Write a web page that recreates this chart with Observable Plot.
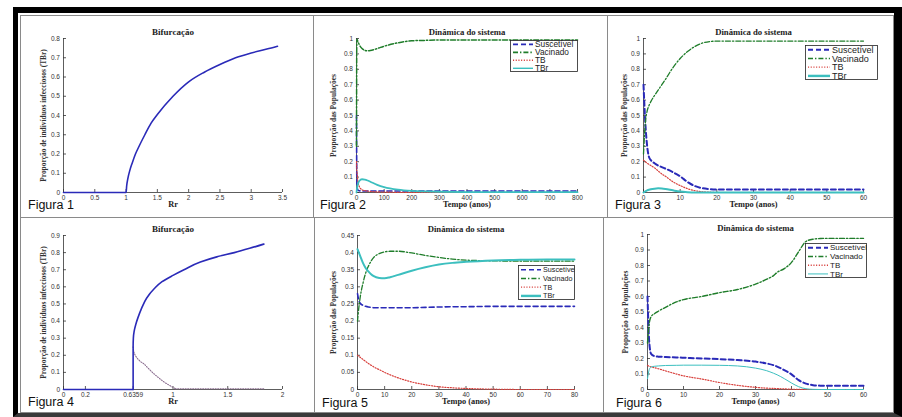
<!DOCTYPE html>
<html><head><meta charset="utf-8">
<script src="https://cdn.jsdelivr.net/npm/d3@7"></script>
<script src="https://cdn.jsdelivr.net/npm/@observablehq/plot@0.6"></script>
<style>
html,body{margin:0;padding:0;background:#fff;}
#root{position:relative;width:902px;height:417px;overflow:hidden;background:#fff;}
.frame{position:absolute;left:13px;top:7px;width:889px;height:410px;box-sizing:border-box;border-left:5px solid #000;border-top:6px solid #000;border-right:8px solid #000;border-bottom:4px solid #3a3a3a;}
.panel{position:absolute;box-sizing:border-box;border:1px solid #8a8a8a;}
.fig{position:absolute;font-family:'Liberation Sans',Arial,sans-serif;font-size:12.5px;color:#111;line-height:1;white-space:nowrap;}
</style></head><body><div id="root"><div class="frame"></div></div>
<script>
// ---------- data ----------
const seriesNames = ["Suscetível", "Vacinado", "TB", "TBr"];
const figLabels = ["Figura 1", "Figura 2", "Figura 3", "Figura 4", "Figura 5", "Figura 6"];

// Figura 1 — bifurcation
const fig1R   = [0, 1, 1.01, 1.03, 1.06, 1.1, 1.15, 1.2, 1.3, 1.4, 1.5, 1.75, 2, 2.25, 2.5, 2.75, 3, 3.25, 3.42];
const fig1TBr = [0, 0, 0.035, 0.075, 0.115, 0.155, 0.2, 0.235, 0.3, 0.36, 0.405, 0.5, 0.575, 0.625, 0.665, 0.70, 0.725, 0.745, 0.76];
const fig1XTicks = [0, 0.5, 1, 1.5, 2, 2.5, 3, 3.5];
const fig1YTicks = [0, 0.1, 0.2, 0.3, 0.4, 0.5, 0.6, 0.7, 0.8];

// Figura 4 — bifurcation with fold at 0.6359
const fig4FlatR = [0, 0.6359];
const fig4FlatTBr = [0, 0];
const fig4StableR   = [0.6359, 0.6359, 0.638, 0.645, 0.66, 0.68, 0.71, 0.76, 0.83, 0.9, 1.0, 1.1, 1.25, 1.4, 1.56, 1.7, 1.83];
const fig4StableTBr = [0, 0.25, 0.3, 0.34, 0.38, 0.42, 0.47, 0.535, 0.59, 0.63, 0.667, 0.7, 0.745, 0.775, 0.80, 0.825, 0.85];
const fig4UnstableR   = [0.6359, 0.645, 0.665, 0.7, 0.733, 0.78, 0.824, 0.87, 0.916, 0.96, 0.99, 1.02];
const fig4UnstableTBr = [0.25, 0.215, 0.19, 0.165, 0.15, 0.12, 0.093, 0.068, 0.045, 0.027, 0.016, 0.006];
const fig4TailR = [1.02, 1.83];
const fig4TailTBr = [0.004, 0.004];
const fig4XTicks = [0, 0.2, 0.6359, 1, 1.5, 2];
const fig4YTicks = [0, 0.1, 0.2, 0.3, 0.4, 0.5, 0.6, 0.7, 0.8, 0.9];

// Figura 2
const fig2Tempo = [0, 1, 2, 5, 10, 20, 30, 40, 50, 75, 100, 150, 200, 250, 300, 400, 500, 600, 700, 800];
const fig2Sus = [0.5, 0.12, 0.04, 0.015, 0.011, 0.01, 0.01, 0.01, 0.01, 0.01, 0.01, 0.01, 0.01, 0.01, 0.01, 0.01, 0.01, 0.01, 0.01, 0.01];
const fig2Vac = [0.3, 0.97, 0.995, 0.98, 0.96, 0.935, 0.923, 0.92, 0.922, 0.935, 0.95, 0.972, 0.985, 0.988, 0.99, 0.99, 0.99, 0.99, 0.99, 0.99];
const fig2TB  = [0.2, 0.16, 0.13, 0.075, 0.04, 0.018, 0.012, 0.009, 0.007, 0.004, 0.003, 0.001, 0, 0, 0, 0, 0, 0, 0, 0];
const fig2TBr = [0, 0.015, 0.028, 0.055, 0.075, 0.086, 0.084, 0.078, 0.07, 0.05, 0.035, 0.018, 0.01, 0.007, 0.005, 0.003, 0.002, 0.002, 0.002, 0.002];
const fig2XTicks = [0, 100, 200, 300, 400, 500, 600, 700, 800];

// Figura 3
const fig3Tempo = [0, 0.5, 1, 1.5, 2, 3, 4, 5, 6, 8, 10, 12, 14, 16, 18, 20, 25, 30, 40, 50, 60];
const fig3Sus = [0.7, 0.45, 0.3, 0.23, 0.21, 0.19, 0.175, 0.165, 0.155, 0.132, 0.105, 0.068, 0.042, 0.028, 0.022, 0.02, 0.02, 0.02, 0.02, 0.02, 0.02];
const fig3Vac = [0.25, 0.45, 0.53, 0.565, 0.59, 0.63, 0.665, 0.7, 0.735, 0.81, 0.87, 0.915, 0.948, 0.97, 0.98, 0.983, 0.983, 0.983, 0.983, 0.983, 0.983];
const fig3TB  = [0.21, 0.2, 0.19, 0.182, 0.175, 0.16, 0.14, 0.12, 0.105, 0.07, 0.045, 0.025, 0.012, 0.005, 0.002, 0, 0, 0, 0, 0, 0];
const fig3TBr = [0, 0.008, 0.014, 0.018, 0.021, 0.025, 0.027, 0.026, 0.023, 0.014, 0.006, 0.002, 0, 0, 0, 0, 0, 0, 0, 0, 0];

// Figura 5
const fig5Tempo = [0, 0.5, 1, 2, 3, 4, 5, 6, 8, 10, 12, 15, 20, 25, 30, 35, 40, 50, 60, 70, 80];
const fig5Sus = [0.28, 0.26, 0.252, 0.246, 0.243, 0.241, 0.24, 0.239, 0.239, 0.239, 0.239, 0.239, 0.239, 0.24, 0.241, 0.242, 0.242, 0.243, 0.243, 0.243, 0.243];
const fig5Vac = [0.2, 0.24, 0.27, 0.31, 0.34, 0.36, 0.375, 0.386, 0.397, 0.402, 0.404, 0.404, 0.399, 0.392, 0.386, 0.381, 0.378, 0.376, 0.375, 0.375, 0.375];
const fig5TB  = [0.1, 0.097, 0.094, 0.088, 0.082, 0.076, 0.071, 0.066, 0.058, 0.05, 0.043, 0.034, 0.022, 0.014, 0.008, 0.005, 0.003, 0.001, 0, 0, 0];
const fig5TBr = [0.41, 0.40, 0.39, 0.37, 0.355, 0.345, 0.337, 0.331, 0.326, 0.325, 0.328, 0.335, 0.347, 0.357, 0.365, 0.37, 0.373, 0.377, 0.379, 0.38, 0.38];
const fig5XTicks = [0, 10, 20, 30, 40, 50, 60, 70, 80];
const fig5YTicks = [0, 0.05, 0.1, 0.15, 0.2, 0.25, 0.3, 0.35, 0.4, 0.45];

// Figura 6
const fig6Tempo = [0, 0.5, 1, 2, 3, 5, 8, 10, 15, 20, 25, 30, 33, 35, 36, 38, 40, 42, 44, 46, 48, 50, 55, 60];
const fig6Sus = [0.6, 0.3, 0.23, 0.215, 0.212, 0.21, 0.207, 0.205, 0.2, 0.196, 0.19, 0.18, 0.168, 0.157, 0.148, 0.125, 0.098, 0.06, 0.038, 0.028, 0.025, 0.025, 0.025, 0.025];
const fig6Vac = [0.3, 0.43, 0.47, 0.49, 0.505, 0.53, 0.565, 0.58, 0.6, 0.625, 0.645, 0.68, 0.71, 0.735, 0.755, 0.78, 0.82, 0.89, 0.955, 0.97, 0.974, 0.975, 0.975, 0.975];
const fig6TB  = [0.155, 0.15, 0.146, 0.14, 0.134, 0.12, 0.1, 0.088, 0.068, 0.045, 0.027, 0.014, 0.009, 0.007, 0.006, 0.004, 0.002, 0.001, 0, 0, 0, 0, 0, 0];
const fig6TBr = [0.07, 0.13, 0.145, 0.15, 0.152, 0.155, 0.156, 0.157, 0.157, 0.156, 0.152, 0.138, 0.122, 0.105, 0.095, 0.07, 0.042, 0.018, 0.005, 0.001, 0, 0, 0, 0];

const time60Ticks = [0, 10, 20, 30, 40, 50, 60];
const unitYTicks = [0, 0.1, 0.2, 0.3, 0.4, 0.5, 0.6, 0.7, 0.8, 0.9, 1];

// ---------- styles ----------
const BLUE = "#2a2ab8", GREEN = "#1f7d2a", RED = "#d8403c", CYAN = "#3cbfbf", DOT4 = "#8a6d8f";
const SERIF = "'Liberation Serif','Times New Roman',serif";
const SANS = "'Liberation Sans',Arial,sans-serif";
const rows = (xs, ys) => xs.map((x, i) => ({x, y: ys[i]}));

const root = document.getElementById("root");

function seriesLines(t, sus, vac, tb, tbr, w) {
  return [
    Plot.line(rows(t, sus), {x: "x", y: "y", stroke: BLUE, strokeWidth: w.sus, strokeDasharray: "5,3", curve: "monotone-x"}),
    Plot.line(rows(t, vac), {x: "x", y: "y", stroke: GREEN, strokeWidth: w.vac, strokeDasharray: "5,2,1.4,2", curve: "monotone-x"}),
    Plot.line(rows(t, tb), {x: "x", y: "y", stroke: RED, strokeWidth: w.tb, strokeDasharray: "1.1,1.6", curve: "monotone-x"}),
    Plot.line(rows(t, tbr), {x: "x", y: "y", stroke: CYAN, strokeWidth: w.tbr, curve: "monotone-x"})
  ];
}

function makePanel(cfg) {
  const [bx0, by0, bx1, by1] = cfg.box;
  const [px0, py0, px1, py1] = cfg.plot;
  const div = document.createElement("div");
  div.className = "panel";
  Object.assign(div.style, {left: bx0 + "px", top: by0 + "px", width: (bx1 - bx0 + 1) + "px", height: (by1 - by0 + 1) + "px"});
  root.appendChild(div);

  const width = bx1 - bx0, height = by1 - by0;
  const mid = {textAnchor: "middle", lineAnchor: "middle"};
  const svg = Plot.plot({
    width, height,
    marginLeft: px0 - bx0, marginRight: bx1 - px1,
    marginTop: py0 - by0, marginBottom: by1 - py1,
    x: {domain: cfg.xDomain},
    y: {domain: cfg.yDomain},
    style: {fontFamily: SANS, fontSize: "6.5px", color: "#333", background: "transparent", overflow: "visible"},
    marks: [
      Plot.axisX(cfg.xTicks, {tickSize: -3, tickPadding: 5.5, tickFormat: d => String(d), label: null, strokeWidth: 0.8}),
      Plot.axisY(cfg.yTicks, {tickSize: -3, tickPadding: 6.5, tickFormat: d => String(d), label: null, strokeWidth: 0.8}),
      Plot.ruleX([cfg.xDomain[0]], {stroke: "#333", strokeWidth: 0.8}),
      Plot.ruleY([cfg.yDomain[0]], {stroke: "#333", strokeWidth: 0.8}),
      ...cfg.lines,
      Plot.text([cfg.title], {text: d => d, frameAnchor: "top", dy: -6, ...mid, fontFamily: SERIF, fontWeight: "bold", fontSize: cfg.titleSize, fill: "#222"}),
      Plot.text([cfg.xLabel], {text: d => d, frameAnchor: "bottom", dy: 11.5, ...mid, fontFamily: SERIF, fontWeight: "bold", fontSize: 8.3, fill: "#222"}),
      Plot.text([cfg.yLabel], {text: d => d, frameAnchor: "left", dx: cfg.yLabelDx, rotate: -90, ...mid, fontFamily: SERIF, fontWeight: "bold", fontSize: 7.4, fill: "#333"})
    ]
  });
  Object.assign(svg.style, {position: "absolute", left: bx0 + "px", top: by0 + "px"});
  root.appendChild(svg);

  if (cfg.legend) addLegend(cfg.legend);

  const f = document.createElement("div");
  f.className = "fig";
  f.textContent = cfg.fig;
  Object.assign(f.style, {left: cfg.figPos[0] + "px", top: (cfg.figPos[1] - 10.6) + "px"});
  root.appendChild(f);
}

function addLegend({x, y, w, h, fontSize, sample, widths}) {
  const svg = d3.create("svg").attr("width", w).attr("height", h)
    .style("position", "absolute").style("left", x + "px").style("top", y + "px");
  svg.append("rect").attr("x", 0.5).attr("y", 0.5).attr("width", w - 1).attr("height", h - 1)
    .attr("fill", "#fff").attr("stroke", "#222").attr("stroke-width", 0.8);
  const styles = [
    {c: BLUE, d: "5,3", w: widths[0]},
    {c: GREEN, d: "5,2,1.4,2", w: widths[1]},
    {c: RED, d: "1.1,1.6", w: widths[2]},
    {c: CYAN, d: null, w: widths[3]}
  ];
  seriesNames.forEach((name, i) => {
    const cy = h / 8 * (2 * i + 1) + 0.3;
    svg.append("line").attr("x1", 3).attr("x2", 3 + sample).attr("y1", cy).attr("y2", cy)
      .attr("stroke", styles[i].c).attr("stroke-width", styles[i].w).attr("stroke-dasharray", styles[i].d);
    svg.append("text").attr("x", 5 + sample).attr("y", cy).attr("dy", "0.35em")
      .attr("font-family", SANS).attr("font-size", fontSize).attr("fill", "#222").text(name);
  });
  root.appendChild(svg.node());
}

const dynTitle = "Dinâmica do sistema";
const bifTitle = "Bifurcação";
const yPop = "Proporção das Populações";
const yInf = "Proporção de indivíduos infecciosos (TBr)";
const xTempo = "Tempo (anos)";

// Figura 1
makePanel({
  box: [20, 15, 313, 217], plot: [63, 38, 282, 192],
  xDomain: [0, 3.5], yDomain: [0, 0.8], xTicks: fig1XTicks, yTicks: fig1YTicks,
  title: bifTitle, titleSize: 9, xLabel: "Rr", yLabel: yInf, yLabelDx: -20,
  lines: [Plot.line(rows(fig1R, fig1TBr), {x: "x", y: "y", stroke: BLUE, strokeWidth: 1.6, curve: "monotone-x"})],
  fig: figLabels[0], figPos: [28, 210]
});

// Figura 2
makePanel({
  box: [313, 15, 607, 217], plot: [356, 38, 577, 192],
  xDomain: [0, 800], yDomain: [0, 1], xTicks: fig2XTicks, yTicks: unitYTicks,
  title: dynTitle, titleSize: 8.7, xLabel: xTempo, yLabel: yPop, yLabelDx: -23,
  lines: seriesLines(fig2Tempo, fig2Sus, fig2Vac, fig2TB, fig2TBr, {sus: 1.6, vac: 1.5, tb: 1.2, tbr: 1.8}),
  legend: {x: 510, y: 40, w: 68, h: 32, fontSize: 8.3, sample: 20, widths: [1.8, 1.8, 1.4, 1.4]},
  fig: figLabels[1], figPos: [320, 210]
});

// Figura 3
makePanel({
  box: [607, 15, 893, 217], plot: [643, 38, 863, 192],
  xDomain: [0, 60], yDomain: [0, 1], xTicks: time60Ticks, yTicks: unitYTicks,
  title: dynTitle, titleSize: 8.7, xLabel: xTempo, yLabel: yPop, yLabelDx: -19,
  lines: seriesLines(fig3Tempo, fig3Sus, fig3Vac, fig3TB, fig3TBr, {sus: 2, vac: 1.3, tb: 1.2, tbr: 2}),
  legend: {x: 805, y: 45, w: 73, h: 35, fontSize: 9, sample: 22, widths: [2, 1.6, 1.3, 2.4]},
  fig: figLabels[2], figPos: [615, 210]
});

// Figura 4
makePanel({
  box: [20, 217, 314, 412], plot: [63, 235, 282, 389],
  xDomain: [0, 2], yDomain: [0, 0.9], xTicks: fig4XTicks, yTicks: fig4YTicks,
  title: bifTitle, titleSize: 9, xLabel: "Rr", yLabel: yInf, yLabelDx: -20,
  lines: [
    Plot.line(rows(fig4FlatR, fig4FlatTBr), {x: "x", y: "y", stroke: BLUE, strokeWidth: 1.6}),
    Plot.line(rows(fig4TailR, fig4TailTBr), {x: "x", y: "y", stroke: DOT4, strokeWidth: 1.1, strokeDasharray: "1,1.5"}),
    Plot.line(rows(fig4UnstableR, fig4UnstableTBr), {x: "x", y: "y", stroke: DOT4, strokeWidth: 1.1, strokeDasharray: "1,1.5", curve: "catmull-rom"}),
    Plot.line(rows(fig4StableR, fig4StableTBr), {x: "x", y: "y", stroke: BLUE, strokeWidth: 1.6, curve: "monotone-y"})
  ],
  fig: figLabels[3], figPos: [28, 407]
});

// Figura 5
makePanel({
  box: [314, 217, 603, 412], plot: [357, 235, 574, 389],
  xDomain: [0, 80], yDomain: [0, 0.45], xTicks: fig5XTicks, yTicks: fig5YTicks,
  title: dynTitle, titleSize: 8.7, xLabel: xTempo, yLabel: yPop, yLabelDx: -24,
  lines: seriesLines(fig5Tempo, fig5Sus, fig5Vac, fig5TB, fig5TBr, {sus: 1.6, vac: 1.3, tb: 1.2, tbr: 2}),
  legend: {x: 518, y: 265, w: 57, h: 35, fontSize: 7.2, sample: 20, widths: [1.6, 1.6, 1.3, 2.4]},
  fig: figLabels[4], figPos: [322, 408]
});

// Figura 6
makePanel({
  box: [603, 217, 893, 412], plot: [647, 234, 863, 389],
  xDomain: [0, 60], yDomain: [0, 1], xTicks: time60Ticks, yTicks: unitYTicks,
  title: dynTitle, titleSize: 8.7, xLabel: xTempo, yLabel: yPop, yLabelDx: -22,
  lines: seriesLines(fig6Tempo, fig6Sus, fig6Vac, fig6TB, fig6TBr, {sus: 2, vac: 1.4, tb: 1.2, tbr: 1}),
  legend: {x: 805, y: 243, w: 62, h: 35, fontSize: 8, sample: 20, widths: [2, 1.6, 1.4, 1]},
  fig: figLabels[5], figPos: [616, 408]
});
</script></body></html>
